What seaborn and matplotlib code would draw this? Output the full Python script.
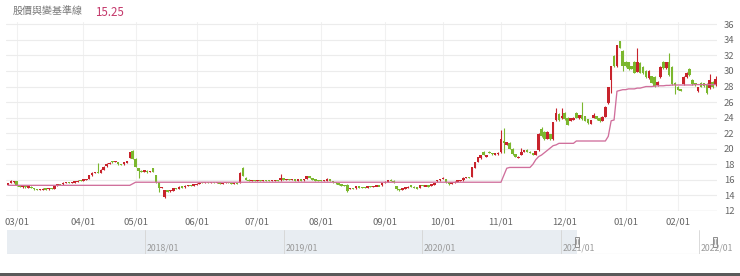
import numpy as np
import pandas as pd
import matplotlib
matplotlib.use("Agg")
import matplotlib.pyplot as plt
from matplotlib.patches import Rectangle
import seaborn as sns

# ---------------- data ----------------
open_ = [
    15.4, 15.6, 15.7, 15.8, 15.35, 15.1, 15.2, 15.05, 15.1, 14.95,
    14.8, 14.7, 14.75, 14.85, 14.8, 14.9, 14.85, 15.2, 15.45, 15.45,
    15.65, 15.7, 15.65, 15.7, 15.75, 15.9, 15.85, 16.0, 16.1, 16.6,
    16.9, 17.0, 16.95, 17.3, 17.75, 18.1, 18.35, 18.3, 18.3, 18.0,
    18.0, 18.25, 18.8, 19.7, 18.7, 17.5, 17.2, 17.0, 17.2, 17.0,
    17.5, 16.6, 15.7, 15.0, 13.8, 14.6, 14.55, 14.6, 14.9, 14.85,
    15.1, 15.05, 15.25, 15.35, 15.3, 15.4, 15.5, 15.65, 15.6, 15.7,
    15.65, 15.7, 15.6, 15.65, 15.55, 15.6, 15.65, 15.6, 15.55, 15.6,
    15.6, 17.5, 16.3, 16.0, 15.9, 15.95, 15.9, 15.95, 15.9, 15.95,
    15.9, 15.85, 15.9, 15.95, 15.95, 16.15, 16.05, 16.1, 16.0, 16.05,
    15.95, 16.0, 15.95, 16.1, 16.5, 16.2, 16.0, 15.95, 15.9, 15.85,
    15.9, 16.05, 15.85, 15.7, 15.55, 15.4, 15.3, 15.4, 14.85, 14.9,
    14.9, 15.15, 15.05, 15.0, 14.95, 15.2, 15.15, 15.2, 15.25, 15.3,
    15.6, 15.75, 15.95, 15.9, 15.2, 14.8, 14.7, 14.9, 15.0, 15.3,
    15.1, 15.0, 14.95, 15.3, 15.2, 15.25, 15.2, 15.4, 15.8, 15.95,
    16.1, 16.05, 15.7, 15.55, 15.65, 15.8, 15.9, 15.95, 16.25, 16.3,
    16.4, 17.55, 18.3, 18.75, 19.6, 19.0, 19.6, 19.45, 19.3, 19.3,
    19.6, 21.0, 20.5, 20.8, 20.0, 19.3, 18.8, 19.2, 19.6, 19.9,
    19.6, 19.45, 19.2, 19.8, 22.5, 22.2, 21.3, 21.9, 21.2, 23.7,
    24.5, 23.9, 24.6, 24.0, 23.6, 23.7, 24.6, 23.9, 24.3, 24.2,
    23.8, 23.2, 24.0, 24.2, 24.0, 23.6, 24.1, 25.9, 28.9, 31.9,
    30.6, 33.8, 32.6, 31.2, 31.1, 30.6, 31.2, 29.9, 31.0, 30.5,
    30.0, 29.1, 29.3, 29.2, 28.2, 29.2, 31.2, 30.4, 31.1, 30.5,
    28.5, 28.0, 27.6, 28.3, 29.2, 30.3, 28.9, 28.4, 27.4, 28.5,
    28.4, 28.3, 27.8, 28.6, 28.2,
]
close_ = [
    15.55, 15.9, 15.8, 15.3, 15.1, 15.2, 15.05, 15.15, 14.95, 14.8,
    14.7, 14.75, 14.85, 14.8, 14.9, 14.85, 15.25, 15.45, 15.4, 15.65,
    15.7, 15.65, 15.7, 15.75, 15.9, 15.85, 16.05, 16.1, 16.6, 16.9,
    17.0, 16.95, 17.3, 17.7, 18.1, 18.2, 18.3, 18.35, 18.0, 17.95,
    18.3, 18.35, 19.55, 18.7, 17.7, 17.2, 17.05, 17.25, 17.0, 17.1,
    17.05, 15.7, 14.9, 15.05, 14.7, 14.55, 14.65, 14.9, 14.85, 15.1,
    15.05, 15.25, 15.35, 15.3, 15.4, 15.5, 15.65, 15.6, 15.7, 15.65,
    15.7, 15.6, 15.65, 15.55, 15.6, 15.65, 15.6, 15.55, 15.6, 15.55,
    16.9, 16.5, 16.0, 15.9, 15.95, 15.9, 15.95, 15.9, 15.95, 15.9,
    15.85, 15.9, 15.95, 15.9, 16.2, 16.05, 16.1, 16.0, 16.05, 15.95,
    16.0, 15.95, 16.1, 16.45, 16.3, 16.0, 15.95, 15.9, 15.85, 15.9,
    16.1, 15.95, 15.7, 15.55, 15.4, 15.3, 15.2, 14.6, 14.9, 14.85,
    15.2, 15.05, 15.0, 14.95, 15.2, 15.15, 15.2, 15.25, 15.2, 15.6,
    15.75, 15.95, 15.9, 15.7, 14.8, 14.65, 14.9, 15.0, 15.1, 15.1,
    14.95, 14.9, 15.35, 15.2, 15.25, 15.15, 15.45, 15.6, 15.95, 16.1,
    16.3, 15.7, 15.45, 15.65, 15.75, 15.9, 15.95, 16.3, 16.3, 16.25,
    17.6, 18.25, 18.95, 19.2, 19.25, 19.2, 19.45, 19.3, 19.35, 19.5,
    21.2, 20.8, 20.85, 20.0, 19.3, 18.95, 19.0, 19.6, 19.8, 19.6,
    19.45, 19.2, 19.65, 21.9, 21.6, 21.2, 22.2, 21.2, 23.4, 24.6,
    23.7, 24.2, 23.8, 23.1, 23.9, 24.0, 24.0, 24.3, 23.8, 23.6,
    23.3, 23.7, 24.3, 23.8, 23.6, 24.1, 25.4, 27.9, 30.6, 30.6,
    33.3, 33.0, 30.6, 30.6, 30.2, 30.3, 29.8, 31.2, 29.8, 29.7,
    29.2, 30.0, 28.5, 28.1, 28.6, 30.5, 30.4, 31.1, 29.5, 28.3,
    28.2, 27.6, 27.5, 29.2, 29.8, 29.5, 28.3, 28.2, 27.9, 28.0,
    28.1, 27.2, 28.8, 27.9, 29.0,
]
high_ = [
    15.6, 16.0, 15.9, 15.85, 15.4, 15.25, 15.25, 15.2, 15.15, 15.0,
    14.85, 14.8, 14.9, 14.9, 14.95, 14.95, 15.3, 15.5, 15.5, 15.7,
    15.75, 15.75, 15.75, 15.8, 15.95, 15.95, 16.1, 16.15, 16.65, 16.95,
    17.05, 18.2, 17.35, 17.75, 18.15, 18.3, 18.45, 18.4, 18.35, 18.1,
    18.35, 18.4, 19.6, 19.9, 18.75, 17.55, 17.3, 17.3, 17.3, 17.2,
    17.55, 16.65, 15.75, 15.1, 14.75, 14.7, 14.7, 14.95, 14.95, 15.15,
    15.15, 15.3, 15.4, 15.4, 15.45, 15.55, 15.7, 15.7, 15.75, 15.75,
    15.75, 15.75, 15.7, 15.7, 15.65, 15.7, 15.7, 15.65, 15.65, 15.65,
    16.95, 17.6, 16.35, 16.05, 16.0, 16.0, 16.0, 16.0, 16.0, 16.0,
    15.95, 15.95, 16.0, 16.0, 16.8, 16.2, 16.15, 16.15, 16.1, 16.1,
    16.05, 16.05, 16.15, 16.55, 16.55, 16.25, 16.05, 16.0, 15.95, 15.95,
    16.3, 16.1, 15.9, 15.75, 15.6, 15.45, 15.35, 15.45, 14.95, 14.95,
    15.25, 15.2, 15.1, 15.05, 15.25, 15.25, 15.25, 15.3, 15.3, 15.65,
    15.8, 16.0, 16.05, 15.95, 15.25, 14.85, 14.95, 15.05, 15.15, 15.35,
    15.15, 15.05, 15.4, 15.35, 15.3, 15.3, 15.5, 15.65, 16.0, 16.15,
    16.35, 16.1, 15.75, 15.7, 15.8, 15.95, 16.0, 16.35, 16.35, 16.35,
    17.65, 18.3, 19.0, 19.25, 19.65, 19.25, 19.65, 19.5, 19.4, 19.55,
    22.4, 22.7, 20.9, 20.85, 20.05, 19.35, 19.05, 20.1, 19.9, 19.95,
    19.65, 19.5, 19.7, 22.0, 22.8, 22.25, 22.3, 21.95, 23.5, 25.2,
    24.6, 25.2, 24.7, 24.05, 24.0, 24.1, 24.7, 24.4, 26.0, 24.25,
    23.85, 23.75, 24.6, 24.25, 24.05, 24.15, 25.45, 28.0, 30.7, 32.0,
    33.4, 33.9, 32.7, 31.3, 31.2, 30.7, 31.3, 32.9, 31.1, 30.6,
    30.1, 30.1, 29.4, 29.3, 28.7, 30.6, 31.3, 31.2, 32.3, 30.6,
    28.6, 28.1, 27.7, 29.3, 29.9, 30.4, 29.0, 28.5, 28.0, 28.6,
    28.5, 28.4, 29.6, 28.7, 29.3,
]
low_ = [
    15.35, 15.55, 15.6, 15.25, 15.05, 15.0, 15.0, 15.0, 14.9, 14.75,
    14.65, 14.65, 14.7, 14.75, 14.75, 14.8, 14.85, 15.15, 15.35, 15.4,
    15.6, 15.6, 15.6, 15.65, 15.7, 15.8, 15.8, 15.95, 16.05, 16.55,
    16.85, 16.9, 16.9, 17.25, 17.7, 18.05, 18.2, 18.25, 17.95, 17.9,
    17.95, 18.2, 18.75, 18.65, 17.6, 16.3, 16.95, 16.95, 16.9, 16.95,
    17.0, 15.6, 14.5, 14.95, 13.7, 14.5, 14.5, 14.55, 14.8, 14.8,
    15.0, 15.0, 15.2, 15.25, 15.25, 15.35, 15.45, 15.55, 15.55, 15.6,
    15.6, 15.55, 15.55, 15.5, 15.5, 15.55, 15.55, 15.5, 15.5, 15.5,
    15.55, 16.45, 15.95, 15.85, 15.85, 15.85, 15.85, 15.85, 15.85, 15.85,
    15.8, 15.8, 15.85, 15.85, 15.9, 16.0, 16.0, 15.95, 15.95, 15.9,
    15.9, 15.9, 15.9, 16.1, 16.25, 15.95, 15.9, 15.85, 15.8, 15.8,
    15.85, 15.9, 15.65, 15.5, 15.35, 15.25, 15.15, 14.5, 14.8, 14.8,
    14.85, 15.0, 14.95, 14.9, 14.9, 15.1, 15.1, 15.15, 15.15, 15.25,
    15.55, 15.7, 15.85, 15.65, 14.7, 14.6, 14.65, 14.85, 14.95, 15.05,
    14.9, 14.85, 14.9, 15.15, 15.15, 15.1, 15.15, 15.35, 15.75, 15.9,
    16.05, 15.65, 15.4, 15.5, 15.6, 15.75, 15.85, 15.9, 16.2, 16.2,
    16.35, 17.5, 18.25, 18.7, 19.2, 18.95, 19.4, 19.25, 19.25, 19.25,
    19.5, 19.5, 20.45, 19.95, 19.25, 18.9, 18.75, 19.15, 19.55, 19.55,
    19.4, 19.15, 19.15, 19.75, 21.5, 21.1, 21.25, 21.1, 21.15, 23.6,
    23.6, 23.85, 23.75, 23.0, 23.55, 23.65, 23.95, 23.85, 23.75, 23.55,
    23.2, 23.15, 23.95, 23.75, 23.5, 23.55, 24.05, 25.8, 27.2, 30.5,
    30.5, 32.9, 30.0, 30.5, 30.1, 30.2, 29.7, 29.85, 29.7, 29.6,
    29.1, 29.0, 28.4, 28.0, 28.1, 29.1, 30.3, 30.3, 29.4, 28.2,
    27.0, 27.5, 27.4, 28.2, 29.1, 29.4, 28.2, 28.1, 27.3, 27.9,
    28.0, 27.1, 27.7, 27.8, 28.1,
]
baseline = [
    15.3, 15.3, 15.3, 15.3, 15.3, 15.3, 15.3, 15.3, 15.3, 15.3,
    15.3, 15.3, 15.3, 15.3, 15.3, 15.3, 15.3, 15.3, 15.3, 15.3,
    15.3, 15.3, 15.3, 15.3, 15.3, 15.3, 15.3, 15.3, 15.3, 15.3,
    15.3, 15.3, 15.3, 15.3, 15.3, 15.3, 15.3, 15.3, 15.3, 15.3,
    15.3, 15.3, 15.3, 15.5, 15.7, 15.7, 15.7, 15.7, 15.7, 15.7,
    15.7, 15.7, 15.7, 15.7, 15.7, 15.7, 15.7, 15.7, 15.7, 15.7,
    15.7, 15.7, 15.7, 15.7, 15.7, 15.7, 15.7, 15.7, 15.7, 15.7,
    15.7, 15.7, 15.7, 15.7, 15.7, 15.7, 15.7, 15.7, 15.7, 15.7,
    15.7, 15.7, 15.7, 15.7, 15.7, 15.7, 15.7, 15.7, 15.7, 15.7,
    15.7, 15.7, 15.7, 15.7, 15.7, 15.7, 15.7, 15.7, 15.7, 15.7,
    15.7, 15.7, 15.7, 15.7, 15.7, 15.7, 15.7, 15.7, 15.7, 15.7,
    15.7, 15.7, 15.7, 15.7, 15.7, 15.7, 15.7, 15.7, 15.7, 15.7,
    15.7, 15.7, 15.7, 15.7, 15.7, 15.7, 15.7, 15.7, 15.7, 15.7,
    15.7, 15.7, 15.7, 15.7, 15.7, 15.7, 15.7, 15.7, 15.7, 15.7,
    15.7, 15.7, 15.7, 15.7, 15.7, 15.7, 15.7, 15.7, 15.7, 15.7,
    15.7, 15.7, 15.7, 15.7, 15.7, 15.7, 15.7, 15.7, 15.7, 15.7,
    15.7, 15.7, 15.7, 15.7, 15.7, 15.7, 15.7, 15.7, 15.7, 15.7,
    15.7, 16.6, 17.5, 17.6, 17.6, 17.6, 17.6, 17.6, 17.6, 17.6,
    17.6, 18.0, 18.6, 19.0, 19.2, 19.5, 19.8, 20.1, 20.4, 20.5,
    20.7, 20.7, 20.7, 20.7, 20.7, 20.7, 21.0, 21.0, 21.0, 21.0,
    21.0, 21.0, 21.0, 21.0, 21.0, 21.0, 21.0, 21.6, 23.6, 23.7,
    27.4, 27.5, 27.6, 27.6, 27.7, 27.7, 27.7, 27.8, 27.8, 27.9,
    28.0, 28.0, 28.0, 28.05, 28.1, 28.1, 28.1, 28.15, 28.15, 28.2,
    28.2, 28.2, 28.2, 28.2, 28.2, 28.2, 28.2, 28.25, 28.25, 28.25,
    28.25, 28.25, 28.25, 28.25, 28.25,
]
tick_pos = [3, 26, 44, 65, 86, 108, 130, 150, 170, 192, 213, 231]
tick_labels = ["03/01", "04/01", "05/01", "06/01", "07/01", "08/01",
               "09/01", "10/01", "11/01", "12/01", "01/01", "02/01"]
y_ticks = [12, 14, 16, 18, 20, 22, 24, 26, 28, 30, 32, 34, 36]
legend_name = "股價與變基準線"
legend_value = "15.25"
nav_years = ["2018/01", "2019/01", "2020/01", "2021/01", "2022/01"]

# ---------------- style ----------------
sns.set_theme(style="white")
plt.rcParams['font.family'] = ['Noto Sans CJK TC', 'DejaVu Sans']

UP = "#c8232c"
DOWN = "#7bb72e"
LINE = "#d06f9c"
GRID = "#ececec"
TXT = "#666666"

W, H = 740, 276
fig = plt.figure(figsize=(W / 100, H / 100), dpi=100)
fig.patch.set_facecolor("white")

n = min(len(open_), len(close_), len(high_), len(low_), len(baseline))
df = pd.DataFrame({
    "idx": np.arange(n),
    "open": open_[:n], "close": close_[:n],
    "high": high_[:n], "low": low_[:n],
    "baseline": baseline[:n],
})
df["up"] = df["close"] >= df["open"]
df["color"] = np.where(df["up"], UP, DOWN)
df["body_lo"] = df[["open", "close"]].min(axis=1)
df["body_h"] = (df["close"] - df["open"]).abs().clip(lower=0.16)
df["body_lo"] = np.where((df["close"] - df["open"]).abs() < 0.16,
                         (df["open"] + df["close"]) / 2 - 0.08, df["body_lo"])

# main axes
ax = fig.add_axes([6 / W, 1 - 211 / H, (717 - 6) / W, (211 - 22) / H])
ax.set_facecolor("white")
ax.set_xlim(-0.7, 244.5)
ax.set_ylim(12, 36.3)

ax.set_yticks(y_ticks)
ax.set_xticks(tick_pos)
ax.set_xticklabels(tick_labels)
ax.yaxis.tick_right()
ax.grid(True, axis="y", color=GRID, lw=0.8)
ax.grid(True, axis="x", color="#f1f1f1", lw=0.8)
ax.set_axisbelow(True)
for s in ax.spines.values():
    s.set_visible(False)
ax.axhline(12, color="#dcdcdc", lw=0.9, zorder=1)
ax.tick_params(axis="both", length=0, labelsize=6.8, colors=TXT)
ax.tick_params(axis="y", pad=5)
ax.tick_params(axis="x", pad=5)

# candles
ax.vlines(df["idx"], df["low"], df["high"], colors=df["color"], lw=0.8, zorder=3)
ax.bar(df["idx"], df["body_h"], bottom=df["body_lo"], width=0.88,
       color=df["color"], linewidth=0, zorder=4)

# baseline
sns.lineplot(data=df, x="idx", y="baseline", color=LINE, lw=0.95, ax=ax,
             legend=False, zorder=5)
ax.set_xlabel("")
ax.set_ylabel("")

# legend text
fig.text(13 / W, 1 - 12 / H, legend_name, fontsize=7.2, color="#777777", va="center")
fig.text(95 / W, 1 - 12 / H, legend_value, fontsize=8.3, color="#c4386b", va="center")

# navigator
nav = fig.add_axes([7 / W, 1 - 254 / H, 710 / W, 24 / H])
nav.set_xlim(7, 717)
nav.set_ylim(0, 1)
nav.axis("off")
nav.add_patch(Rectangle((7, 0), 570, 1, fc="#e8edf2", ec="none"))
nav.plot([7, 717], [0.0, 0.0], color="#d6d6d6", lw=0.8)
for xp, lab in zip([145, 284, 422, 561, 699], nav_years):
    nav.plot([xp, xp], [0, 1], color="#d4d4d4", lw=0.6)
    nav.text(xp + 2, 0.25, lab, fontsize=6.3, color="#9a9a9a", va="center", ha="left")
for hx in [577, 715]:
    nav.add_patch(Rectangle((hx - 2.2, 0.3), 4.4, 0.42, fc="#f3f3f3", ec="#8c8c8c",
                            lw=0.7, zorder=5, clip_on=False))
    nav.plot([hx - 0.7, hx - 0.7], [0.4, 0.62], color="#8c8c8c", lw=0.5, zorder=6,
             clip_on=False)
    nav.plot([hx + 0.7, hx + 0.7], [0.4, 0.62], color="#8c8c8c", lw=0.5, zorder=6,
             clip_on=False)

# dark bottom strip
fig.add_artist(Rectangle((0, 0), 1, 3 / H, transform=fig.transFigure,
                         fc="#5a5a5a", ec="none"))

fig.savefig("out.png", dpi=100, facecolor="white")
